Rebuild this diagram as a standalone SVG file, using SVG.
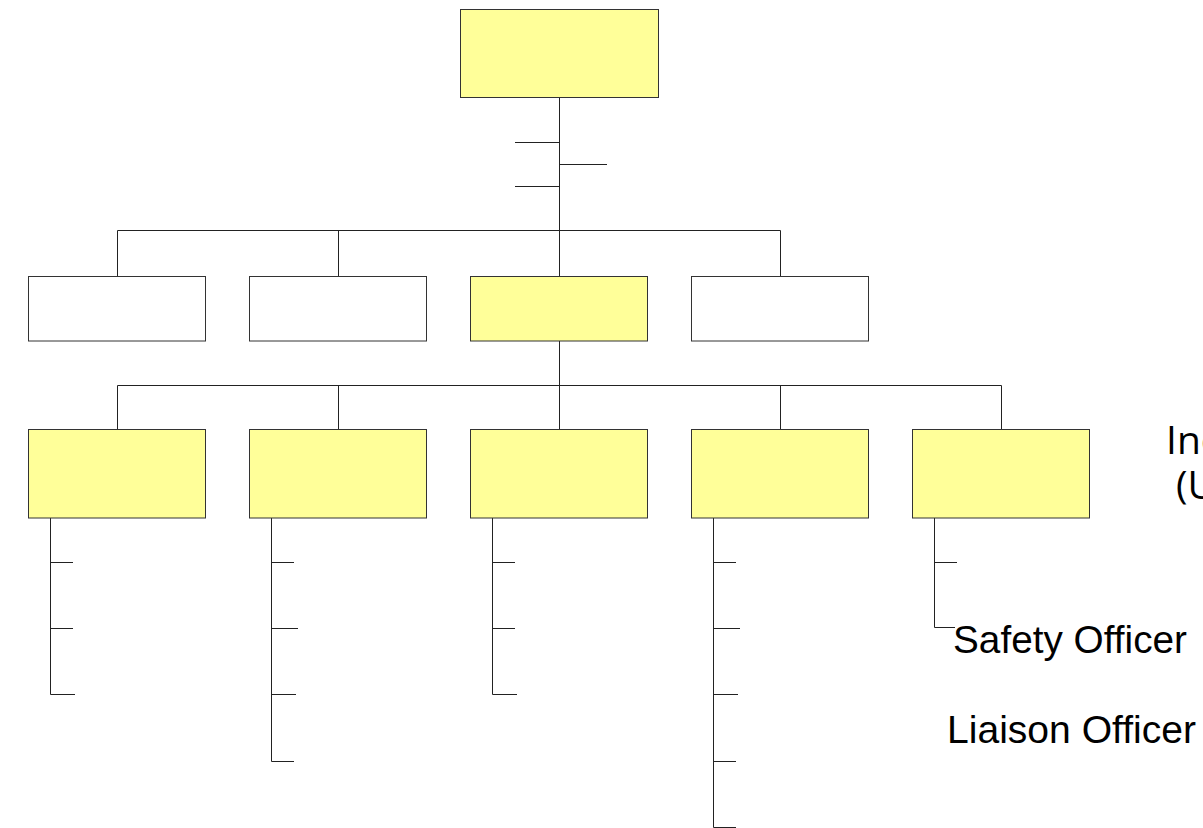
<svg xmlns="http://www.w3.org/2000/svg" width="1203" height="828" viewBox="0 0 1203 828">
<style>
.y{fill:#FFFF99;stroke:#333;stroke-width:1}
.w{fill:#FFFFFF;stroke:#333;stroke-width:1}
.c line,.c polyline{stroke:#222;stroke-width:1;fill:none}
.t{font-family:"Liberation Sans",Arial,sans-serif;font-size:38.5px;fill:#000}
.t2{font-family:"Open Sans","Liberation Sans",sans-serif;font-size:39px;fill:#000}
</style>
<rect width="1203" height="828" fill="#fff"/>
<g class="c" id="connectors">
<line x1="559.5" y1="97" x2="559.5" y2="230"/>
<line x1="515" y1="142.5" x2="559.5" y2="142.5"/>
<line x1="559.5" y1="164.5" x2="607" y2="164.5"/>
<line x1="515" y1="186.5" x2="559.5" y2="186.5"/>
<line x1="117.5" y1="230.5" x2="780.5" y2="230.5"/>
<line x1="117.5" y1="230.5" x2="117.5" y2="276"/>
<line x1="338.5" y1="230.5" x2="338.5" y2="276"/>
<line x1="559.5" y1="230" x2="559.5" y2="276"/>
<line x1="780.5" y1="230.5" x2="780.5" y2="276"/>
<line x1="559.5" y1="341" x2="559.5" y2="385.5"/>
<line x1="117.5" y1="385.5" x2="1001.5" y2="385.5"/>
<line x1="117.5" y1="385.5" x2="117.5" y2="430"/>
<line x1="338.5" y1="385.5" x2="338.5" y2="430"/>
<line x1="559.5" y1="385.5" x2="559.5" y2="430"/>
<line x1="780.5" y1="385.5" x2="780.5" y2="430"/>
<line x1="1001.5" y1="385.5" x2="1001.5" y2="430"/>
<polyline points="50.5,518 50.5,694.5 75,694.5"/>
<line x1="50.5" y1="562.5" x2="73" y2="562.5"/>
<line x1="50.5" y1="628.5" x2="73" y2="628.5"/>
<polyline points="271.5,518 271.5,761.5 294,761.5"/>
<line x1="271.5" y1="562.5" x2="294" y2="562.5"/>
<line x1="271.5" y1="628.5" x2="298" y2="628.5"/>
<line x1="271.5" y1="694.5" x2="296" y2="694.5"/>
<polyline points="492.5,518 492.5,694.5 517,694.5"/>
<line x1="492.5" y1="562.5" x2="515" y2="562.5"/>
<line x1="492.5" y1="628.5" x2="515" y2="628.5"/>
<polyline points="713.5,518 713.5,827.5 736,827.5"/>
<line x1="713.5" y1="562.5" x2="736" y2="562.5"/>
<line x1="713.5" y1="628.5" x2="740" y2="628.5"/>
<line x1="713.5" y1="694.5" x2="738" y2="694.5"/>
<line x1="713.5" y1="761.5" x2="736" y2="761.5"/>
<polyline points="934.5,518 934.5,627.5 955,627.5"/>
<line x1="934.5" y1="562.5" x2="957" y2="562.5"/>
</g>
<g id="n-top"><rect class="y" x="460.5" y="9.5" width="198" height="88"/></g>
<g id="n-r2-1"><rect class="w" x="28.5" y="276.5" width="177" height="64.5"/></g>
<g id="n-r2-2"><rect class="w" x="249.5" y="276.5" width="177" height="64.5"/></g>
<g id="n-r2-3"><rect class="y" x="470.5" y="276.5" width="177" height="64.5"/></g>
<g id="n-r2-4"><rect class="w" x="691.5" y="276.5" width="177" height="64.5"/></g>
<g id="n-r3-1"><rect class="y" x="28.5" y="429.5" width="177" height="88.5"/></g>
<g id="n-r3-2"><rect class="y" x="249.5" y="429.5" width="177" height="88.5"/></g>
<g id="n-r3-3"><rect class="y" x="470.5" y="429.5" width="177" height="88.5"/></g>
<g id="n-r3-4"><rect class="y" x="691.5" y="429.5" width="177" height="88.5"/></g>
<g id="n-r3-5"><rect class="y" x="912.5" y="429.5" width="177" height="88.5"/></g>
<g id="labels">
<text class="t2"><tspan x="1166" y="454">Inc</tspan><tspan x="1176" y="499">(U</tspan></text>
<text class="t" x="953" y="653" textLength="234" lengthAdjust="spacingAndGlyphs">Safety Officer</text>
<text class="t" x="947" y="743" textLength="249" lengthAdjust="spacingAndGlyphs">Liaison Officer</text>
</g>
</svg>
